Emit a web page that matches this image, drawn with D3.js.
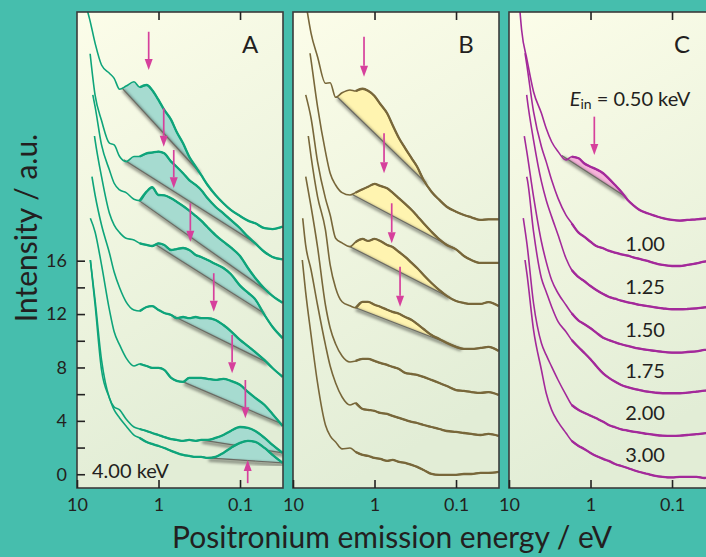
<!DOCTYPE html>
<html><head><meta charset="utf-8">
<script src="https://cdn.jsdelivr.net/npm/d3@7"></script>
<style>
body{margin:0;background:#46bead;}
svg{display:block;}
text{font-family:Lato,"Open Sans","DejaVu Sans",sans-serif;fill:#231f20;}
</style>
</head><body>
<svg id="chart" width="706" height="557"></svg>
<script>
// ---------------- DATA ----------------
const energyGrid = [9,8,7,6,5,4,3.5,3,2.5,2,1.7,1.4,1.2,1,0.85,0.7,0.6,0.5,0.42,0.35,0.3,0.25,0.2,0.16,0.13,0.1,0.08,0.065,0.05,0.04,0.03];

// Panel A (green): [start energy, start intensity] and values on energyGrid below start
const panelAStarts = [[7.4,34.65],[6.9,31.5],[6.4,28.42],[6.1,25.34],[6.55,22.29],[6.86,19.18],[6.86,16.05],[6.86,16.05]];
const panelAValues = [
  [34.1,32.3,30.66,30.04,29.66,28.84,29.08,29.4,28.99,29.16,28.79,28.04,27.29,26.55,25.66,24.79,23.79,23.04,22.42,21.67,20.92,20.3,19.8,19.35,19.0,18.8,18.43,18.37,18.55],
  [28.4,26.5,24.8,24.67,23.8,23.42,23.8,23.8,24.04,24.1,24.17,24.04,23.42,23.04,22.55,22.04,21.67,21.3,20.67,20.04,19.55,19.05,18.43,17.8,17.3,16.65,16.28,16.1],
  [27.54,24.67,22.79,21.8,21.3,21.1,20.6,20.5,21.17,21.5,20.92,20.9,20.67,20.42,20.1,19.75,19.35,19.0,18.5,17.92,17.42,17.0,16.35,15.45,14.7,13.9,13.37,12.85],
  [25.04,22.29,19.55,18.67,18.1,17.68,17.55,17.3,17.18,17.1,17.3,17.18,16.8,16.87,16.95,16.8,16.43,16.28,16.05,15.75,15.45,15.0,14.13,13.6,13.1,11.93,11.05,10.2],
  [20.92,18.67,16.58,15.15,13.97,12.92,12.31,12.23,12.53,12.6,12.31,12.08,11.93,11.7,11.78,11.7,11.78,11.7,11.7,11.56,11.18,10.73,10.06,9.6,9.15,8.55,7.96,7.3],
  [18.15,15.68,12.31,10.67,9.69,8.72,8.11,8.26,8.11,7.97,7.97,7.82,7.22,7.0,6.92,7.22,7.22,7.22,7.15,7.07,7.15,7.0,6.7,6.17,5.72,5.19,4.52,3.62],
  [13.05,8.56,5.72,5.04,4.82,4.14,3.54,3.39,3.24,3.09,2.94,2.79,2.64,2.57,2.5,2.57,2.5,2.57,2.57,2.72,2.94,3.24,3.54,3.47,3.24,2.72,2.2,1.6],
  [12.7,7.81,5.72,4.82,4.22,3.62,2.94,2.72,2.42,2.27,2.12,1.97,1.75,1.6,1.45,1.37,1.3,1.3,1.22,1.3,1.6,1.97,2.35,2.5,2.42,1.97,1.45,0.85]
];
const panelAShade = [[2.8,0.32],[2.67,0.066],[1.75,0.045],[1.09,0.052],[0.69,0.047],[0.5,0.032],[0.3,0.03],[0.25,0.03]];
const panelAArrows = [[1.32,33.15,30.28],[0.863,27.42,24.54],[0.65,24.29,21.42],[0.407,20.3,17.42],[0.21,15.06,12.18],[0.125,10.43,7.57],[0.086,7.06,4.19],[0.0805,-0.67,1.07]];

// Panel B (olive)
const panelBStarts = [[6.68,34.65],[6.18,31.54],[6.98,28.42],[6.49,25.34],[6.98,22.29],[7.6,19.18],[7.69,16.05]];
const panelBValues = [
  [33.03,31.28,29.29,29.33,28.24,28.58,28.79,28.71,28.88,28.73,28.34,27.74,27.04,26.16,25.17,24.42,23.67,23.04,22.04,21.17,20.55,20.04,19.67,19.42,19.25,19.05,19.1,19.1],
  [31.0,27.54,24.17,22.55,21.67,21.1,20.92,21.1,21.35,21.54,21.75,21.6,21.42,21.1,20.67,20.25,19.8,19.35,18.8,18.17,17.6,17.18,16.85,16.35,16.05,15.83,15.83,15.83],
  [26.67,23.42,20.67,19.42,17.68,17.33,17.05,17.4,17.63,17.48,17.63,17.48,17.18,17.03,16.65,16.28,15.83,15.45,14.93,14.33,13.8,13.36,12.98,12.83,12.76,12.76,12.9,12.6],
  [23.79,20.8,18.3,15.68,13.96,12.92,12.62,12.47,12.92,12.92,12.7,12.55,12.32,12.16,12.02,11.78,11.56,11.26,10.88,10.43,10.13,9.84,9.54,9.39,9.39,9.46,9.54,9.24],
  [20.04,17.03,12.68,10.96,9.76,8.86,8.41,8.49,8.64,8.64,8.49,8.34,8.19,8.04,7.89,7.59,7.51,7.44,7.29,7.07,6.84,6.61,6.31,6.24,6.16,6.09,6.16,5.94],
  [17.18,15.3,12.68,9.69,8.11,6.84,5.79,5.19,5.34,4.89,4.82,4.74,4.59,4.52,4.37,4.22,4.07,3.92,3.84,3.69,3.54,3.39,3.24,3.17,3.09,3.02,2.94,3.02,2.87],
  [13.66,10.43,6.84,3.69,2.87,2.42,1.9,1.97,1.67,1.45,1.37,1.22,1.15,1.0,1.07,0.92,0.85,0.7,0.55,0.32,0.02,-0.05,-0.05,-0.05,0.02,0.02,0.1,0.1,0.17]
];
const panelBShade = [[2.91,0.24],[1.9,0.108],[2.0,0.125],[1.74,0.089]];
const panelBArrows = [[1.345,32.78,29.78],[0.764,25.54,22.55],[0.615,20.3,17.3],[0.486,15.55,12.55]];

// Panel C (purple)
const panelCStarts = [[7.33,34.65],[6.36,31.54],[6.07,28.42],[6.49,25.34],[6.07,22.29],[6.68,19.18],[6.36,16.05]];
const panelCValues = [
  [33.28,31.03,28.66,27.04,25.92,24.91,24.17,23.54,23.79,23.67,23.3,23.04,22.85,22.55,22.17,21.67,21.17,20.55,20.17,19.8,19.55,19.35,19.18,19.05,19.0,19.05,19.1,19.15,19.2],
  [30.53,27.16,24.54,23.42,22.04,20.67,19.42,18.8,18.1,17.8,17.42,17.1,16.93,16.75,16.6,16.48,16.38,16.25,16.13,15.98,15.8,15.68,15.6,15.6,15.68,15.8,15.93,16.0],
  [28.17,25.04,21.92,20.55,19.3,17.93,16.18,15.3,14.76,14.48,14.1,13.8,13.5,13.3,13.15,13.0,12.88,12.8,12.68,12.6,12.5,12.43,12.36,12.36,12.38,12.43,12.5,12.55],
  [24.04,20.8,17.42,15.93,14.55,13.56,12.68,12.06,11.51,11.26,10.94,10.61,10.23,10.06,9.89,9.74,9.61,9.51,9.41,9.31,9.24,9.16,9.11,9.11,9.16,9.21,9.31,9.35],
  [22.17,18.17,14.68,13.68,12.55,11.43,10.68,10.06,9.51,9.11,8.61,8.11,7.56,7.24,6.94,6.69,6.52,6.41,6.31,6.19,6.11,6.07,6.07,6.07,6.11,6.19,6.26,6.3],
  [17.18,12.81,9.81,8.94,8.06,7.06,5.94,5.19,4.82,4.61,4.39,4.19,3.94,3.69,3.52,3.37,3.27,3.19,3.12,3.02,2.94,2.89,2.87,2.89,2.94,3.0,3.07,3.1],
  [14.93,10.81,7.81,6.09,4.82,3.92,3.09,2.5,2.12,1.9,1.6,1.37,1.15,1.0,0.77,0.62,0.47,0.32,0.17,0.02,-0.13,-0.2,-0.24,-0.2,-0.2,-0.2,-0.28,-0.25]
];
const panelCShade = [[2.25,0.38]];
const panelCArrows = [[0.898,26.79,23.92]];
const panelCLabels = ["1.00","1.25","1.50","1.75","2.00","3.00"];

const xTickValues = [10,1,0.1];
const xTickLabels = ["10","1","0.1"];
const yMajorTicks = [0,4,8,12,16];
const yMinorTicks = [2,6,10,14];
const panelNames = ["A","B","C"];

// ---------------- LAYOUT ----------------
const svg = d3.select("#chart");
const TOP = 12, BOTTOM = 488, PW = 206;
const panelLefts = [77, 293, 509];
const xDomain = [10, 0.0297];
const y = d3.scaleLinear().domain([-1.03, 34.63]).range([BOTTOM, TOP]);

const panels = [
  {starts: panelAStarts, values: panelAValues, shade: panelAShade, arrows: panelAArrows, color: "#0ea47a", fill: "#a6dbd0", shadeIdx: [0,1,2,3,4,5,6,7]},
  {starts: panelBStarts, values: panelBValues, shade: panelBShade, arrows: panelBArrows, color: "#78673a", fill: "#fff4b0", shadeIdx: [0,1,2,3]},
  {starts: panelCStarts, values: panelCValues, shade: panelCShade, arrows: panelCArrows, color: "#a3299a", fill: "#f6b3da", shadeIdx: [0]}
];

const defs = svg.append("defs");
const grad = defs.append("linearGradient").attr("id","bg").attr("x1",0).attr("y1",0).attr("x2",0.25).attr("y2",1);
grad.append("stop").attr("offset","0%").attr("stop-color","#fcfde9");
grad.append("stop").attr("offset","100%").attr("stop-color","#e2edd6");
defs.append("filter").attr("id","soft").attr("x","-20%").attr("y","-20%").attr("width","140%").attr("height","140%")
  .append("feGaussianBlur").attr("stdDeviation",1.6);
defs.append("filter").attr("id","softer").attr("x","-20%").attr("y","-20%").attr("width","140%").attr("height","140%")
  .append("feGaussianBlur").attr("stdDeviation",0.6);

svg.append("rect").attr("width",706).attr("height",557).attr("fill","#46bead");

function buildCurve(start, vals){
  const es = energyGrid.filter(e => e < start[0]);
  return [start].concat(es.map((e,i) => [e, vals[i]]));
}
function interpAt(pts, e){
  const le = Math.log10(e);
  for (let k = 0; k < pts.length-1; k++){
    const a = pts[k], b = pts[k+1];
    if (e <= a[0] && e >= b[0]){
      const t = (le - Math.log10(a[0])) / (Math.log10(b[0]) - Math.log10(a[0]));
      return a[1] + t*(b[1]-a[1]);
    }
  }
  return pts[pts.length-1][1];
}

panels.forEach((p, pi) => {
  const L = panelLefts[pi];
  const x = d3.scaleLog().domain(xDomain).range([L, L+PW]);
  const g = svg.append("g");
  defs.append("clipPath").attr("id","clip"+pi).append("rect")
    .attr("x",L).attr("y",TOP).attr("width",PW).attr("height",BOTTOM-TOP);
  g.append("rect").attr("x",L).attr("y",TOP).attr("width",PW).attr("height",BOTTOM-TOP).attr("fill","url(#bg)");

  const inner = g.append("g").attr("clip-path","url(#clip"+pi+")");
  const curves = p.starts.map((s,i) => buildCurve(s, p.values[i]));

  // shaded regions
  p.shade.forEach((sh, si) => {
    const pts = curves[p.shadeIdx[si]];
    const eL = sh[0], eR = sh[1];
    const iL = interpAt(pts, eL), iR = interpAt(pts, eR);
    const lL = Math.log10(eL), lR = Math.log10(eR);
    const lineVal = e => iL + (Math.log10(e)-lL)/(lR-lL)*(iR-iL);
    const seg = [[eL,iL]].concat(pts.filter(d => d[0] < eL && d[0] > eR)).concat([[eR,iR]]);
    const area = d3.area().x(d => x(d[0])).y1(d => y(d[1])).y0(d => y(lineVal(d[0])));
    inner.append("path").attr("d", area(seg)).attr("fill", p.fill).attr("filter","url(#softer)");
    const ln = [[eL,iL],[eR,iR]];
    const lg = d3.line().x(d => x(d[0])).y(d => y(d[1]));
    inner.append("path").attr("d", lg(ln)).attr("stroke","#000").attr("stroke-opacity",0.45)
      .attr("stroke-width",3).attr("fill","none").attr("transform","translate(1,2)").attr("filter","url(#soft)");
    inner.append("path").attr("d", lg(ln)).attr("stroke","#6a6a62").attr("stroke-width",1.2).attr("fill","none");
  });

  // curves (thin on the steep left part, a heavier band on the noisy low-energy tail)
  const line = d3.line().x(d => x(d[0])).y(d => y(d[1])).curve(d3.curveMonotoneX);
  curves.forEach(c => {
    inner.append("path").attr("d", line(c)).attr("fill","none").attr("stroke",p.color)
      .attr("stroke-width",1.6).attr("stroke-linejoin","round");
    inner.append("path").attr("d", line(c.filter(d => d[0] <= 1.7))).attr("fill","none").attr("stroke",p.color)
      .attr("stroke-width",2.3).attr("stroke-linejoin","round");
  });

  // arrows
  p.arrows.forEach(a => {
    const ax = x(a[0]), yt = y(a[1]), yh = y(a[2]);
    const dir = yh > yt ? 1 : -1;
    const hl = 11, hw = 4;
    inner.append("line").attr("x1",ax).attr("x2",ax).attr("y1",yt).attr("y2",yh - dir*hl)
      .attr("stroke","#d6409c").attr("stroke-width",1.7);
    inner.append("path").attr("d",`M${ax-hw},${yh-dir*hl}L${ax+hw},${yh-dir*hl}L${ax},${yh}Z`).attr("fill","#d6409c");
  });

  // border
  g.append("rect").attr("x",L).attr("y",TOP).attr("width",PW).attr("height",BOTTOM-TOP)
    .attr("fill","none").attr("stroke","#3b3b3b").attr("stroke-width",1.6);

  // x axes
  const bot = g.append("g").attr("transform",`translate(0,${BOTTOM})`)
    .call(d3.axisBottom(x).tickValues(xTickValues).tickSizeInner(-8).tickSizeOuter(0).tickPadding(10)
      .tickFormat((d,i) => xTickLabels[i]));
  bot.select(".domain").remove();
  bot.selectAll("line").attr("stroke","#222").attr("stroke-width",1.6);
  bot.selectAll("text").attr("font-size",18).attr("font-family","Lato,'Open Sans',sans-serif").attr("fill","#231f20");
  const topAx = g.append("g").attr("transform",`translate(0,${TOP})`)
    .call(d3.axisTop(x).tickValues(xTickValues.slice(1)).tickSizeInner(-8).tickSizeOuter(0).tickFormat(""));
  topAx.select(".domain").remove();
  topAx.selectAll("line").attr("stroke","#222").attr("stroke-width",1.6);

  // panel letter
  g.append("text").attr("x",L+173).attr("y",53).attr("text-anchor","middle")
    .attr("font-size",24).text(panelNames[pi]);

  if (pi === 0){
    const ya = g.append("g").attr("transform",`translate(${L},0)`)
      .call(d3.axisLeft(y).tickValues(yMajorTicks).tickSizeInner(-8).tickSizeOuter(0).tickPadding(10));
    ya.select(".domain").remove();
    ya.selectAll("line").attr("stroke","#222").attr("stroke-width",1.6);
    ya.selectAll("text").attr("font-size",18).attr("font-family","Lato,'Open Sans',sans-serif").attr("fill","#231f20");
    const ym = g.append("g").attr("transform",`translate(${L},0)`)
      .call(d3.axisLeft(y).tickValues(yMinorTicks).tickSizeInner(-8).tickSizeOuter(0).tickFormat(""));
    ym.select(".domain").remove();
    ym.selectAll("line").attr("stroke","#222").attr("stroke-width",1.6);
    g.append("text").attr("x",L+15).attr("y",478).attr("font-size",20).text("4.00 keV");
  }
  if (pi === 2){
    const t = g.append("text").attr("x",L+121).attr("y",106).attr("text-anchor","middle").attr("font-size",20);
    t.append("tspan").attr("font-style","italic").text("E");
    t.append("tspan").attr("font-size",14).attr("dy",3).text("in");
    t.append("tspan").attr("dy",-3).text(" = 0.50 keV");
    panelCLabels.forEach((lab, li) => {
      const c = curves[li+1];
      g.append("text").attr("x", x(0.214)).attr("y", y(interpAt(c,0.1)) - 15.5)
        .attr("text-anchor","middle").attr("font-size",20).text(lab);
    });
  }
});

// axis titles
svg.append("text").attr("x",392).attr("y",548).attr("text-anchor","middle").attr("font-size",30)
  .text("Positronium emission energy / eV");
svg.append("text").attr("transform","translate(37,228) rotate(-90)").attr("text-anchor","middle").attr("font-size",30)
  .text("Intensity / a.u.");
</script>
</body></html>
